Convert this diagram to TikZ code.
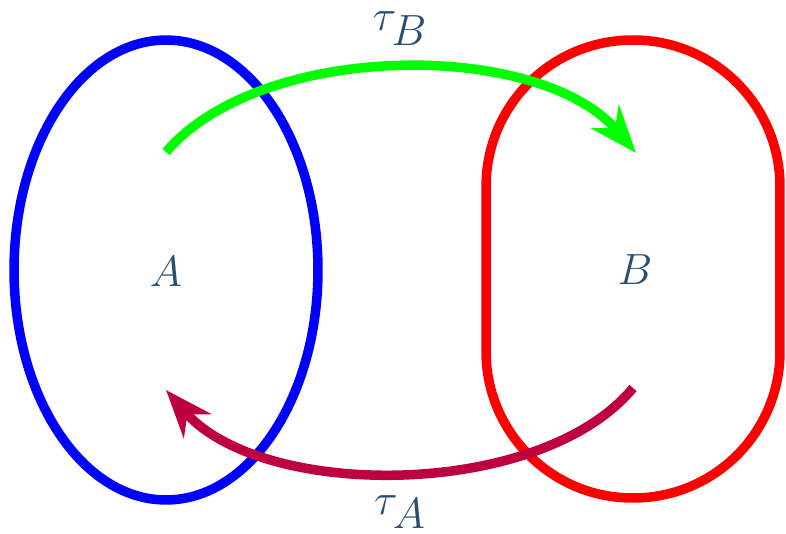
\documentclass[tikz,border=0pt]{standalone}
\usepackage{tikz}
\usetikzlibrary{arrows.meta,shapes.geometric}
\definecolor{labelblue}{RGB}{40,78,115}
\definecolor{mapgreen}{RGB}{0,255,0}
\definecolor{mappurple}{RGB}{191,0,64}

\begin{document}
\begin{tikzpicture}[
    x=0.02cm,y=-0.02cm,
    setline/.style={line width=0.19cm},
    lab/.style={text=labelblue,inner sep=0pt,font=\fontsize{33}{40}\selectfont},
    map/.style={line width=0.19cm,-{Stealth[length=0.95cm,width=0.72cm,inset=0.3cm]}}
  ]
    \useasboundingbox (0,0) rectangle (786,533);
    \node[ellipse,draw=blue,setline,minimum width=6.08cm,minimum height=9.2cm,inner sep=0pt] (setA) at (166,270) {};
    \node[rectangle,draw=red,setline,rounded corners=2.93cm,minimum width=5.88cm,minimum height=9.16cm,inner sep=0pt] (setB) at (633,269) {};
    \node[lab] (labA) at (166,272) {$A$};
    \node[lab] (labB) at (635,270) {$B$};
    \coordinate (aTop) at (166,152);
    \coordinate (bTop) at (636,153);
    \coordinate (bBot) at (633,388);
    \coordinate (aBot) at (166,390);
    \draw[map,mapgreen] (aTop) .. controls (262,40) and (540,40) .. (bTop);
    \draw[map,mappurple] (bBot) .. controls (540,500) and (262,500) .. (aBot);
    \node[lab] (tauB) at (400,29) {$\tau_B$};
    \node[lab] (tauA) at (400,512) {$\tau_A$};
  \end{tikzpicture}
\end{document}
